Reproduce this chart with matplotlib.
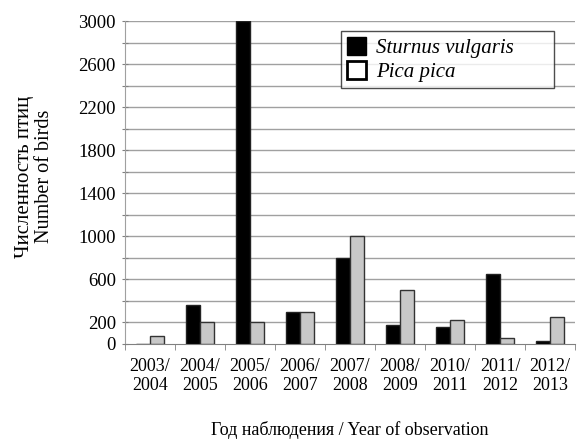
import numpy as np
import matplotlib.pyplot as plt
from matplotlib.patches import Patch

plt.rcParams["font.family"] = ["Liberation Serif", "DejaVu Serif"]

# seasons of observation
seasons = ["2003/\n2004", "2004/\n2005", "2005/\n2006", "2006/\n2007", "2007/\n2008",
           "2008/\n2009", "2010/\n2011", "2011/\n2012", "2012/\n2013"]
sturnus = [0, 360, 3000, 300, 800, 180, 160, 650, 30]
pica = [70, 200, 200, 300, 1000, 500, 220, 55, 250]

y_labeled = [0, 200, 600, 1000, 1400, 1800, 2200, 2600, 3000]
y_grid = list(range(0, 3001, 200))

fig = plt.figure(figsize=(5.77, 4.41), dpi=100)
ax = fig.add_axes([0.2166, 0.22, 0.78, 0.732])

x = np.arange(len(seasons))
w = 0.28
ax.bar(x - w / 2, sturnus, w, color="black", edgecolor="#222222", linewidth=1, zorder=3)
ax.bar(x + w / 2, pica, w, color="#c8c8c8", edgecolor="#333333", linewidth=1, zorder=3)

for g in y_grid[1:]:
    ax.axhline(g, color="#a0a0a0", linewidth=1.0, zorder=1)

ax.set_xlim(-0.5, len(seasons) - 0.5)
ax.set_ylim(0, 3000)
ax.set_yticks(y_grid)
ax.set_yticklabels([str(v) if v in y_labeled else "" for v in y_grid])
ax.tick_params(axis="y", length=5, direction="inout", color="#808080",
               labelsize=13.5, pad=4)

ax.set_xticks(x)
ax.set_xticklabels(seasons, fontsize=13)
ax.set_xticks(np.arange(len(seasons) + 1) - 0.5, minor=True)
ax.tick_params(axis="x", which="major", length=0, pad=10)
ax.tick_params(axis="x", which="minor", length=4, color="#808080", direction="out")

for side in ["top", "right"]:
    ax.spines[side].set_visible(False)
ax.spines["left"].set_color("#a0a0a0")
ax.spines["bottom"].set_color("#808080")

ax.set_xlabel("Год наблюдения / Year of observation", fontsize=13, labelpad=19)

fig.text(0.043, 0.60, "Численность птиц", rotation=90, fontsize=15, ha="center", va="center")
fig.text(0.077, 0.60, "Number of birds", rotation=90, fontsize=14.5, ha="center", va="center")

handles = [Patch(facecolor="black", edgecolor="black", label="Sturnus vulgaris"),
           Patch(facecolor="white", edgecolor="black", linewidth=2, label="Pica pica")]
leg = ax.legend(handles=handles, loc="upper left", bbox_to_anchor=(0.480, 0.789, 0.474, 0.18),
                mode="expand", prop={"style": "italic", "size": 15}, frameon=True,
                fancybox=False, handlelength=0.9, handleheight=0.9, handletextpad=0.5,
                borderpad=0.3, labelspacing=0.15, borderaxespad=0)
leg.get_frame().set_edgecolor("#222222")
leg.get_frame().set_linewidth(1)
leg.set_zorder(5)

fig.savefig("out.png", dpi=100)
